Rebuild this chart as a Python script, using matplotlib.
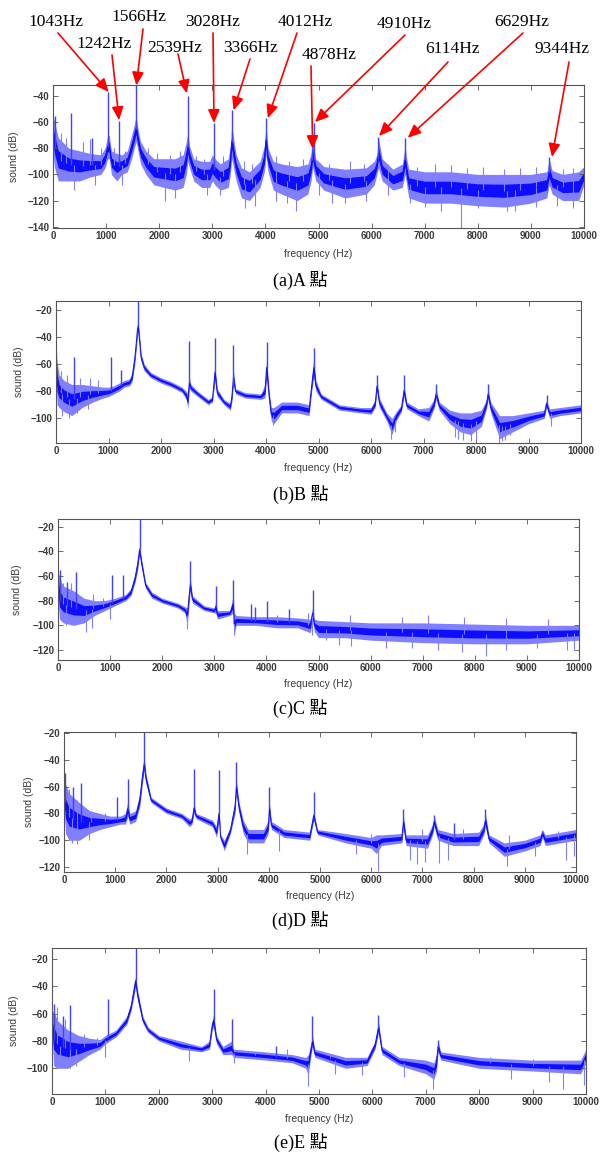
import matplotlib
matplotlib.use('Agg')
import matplotlib.pyplot as plt
import numpy as np

W, H = 601, 1158
fig = plt.figure(figsize=(W / 100, H / 100), dpi=100)

xticks = list(range(0, 10001, 1000))

# ---------------- Panel A ----------------
A_freq = [0, 30, 100, 300, 500, 700, 900, 980, 1030, 1060,
          1100, 1200, 1300, 1400, 1480, 1530, 1566, 1600, 1650, 1750,
          1900, 2100, 2300, 2450, 2510, 2539, 2570, 2650, 2800, 2950,
          3000, 3050, 3150, 3300, 3340, 3366, 3400, 3450, 3550, 3700,
          3900, 3980, 4012, 4050, 4150, 4300, 4600, 4800, 4860, 4890,
          4950, 5100, 5500, 5900, 6050, 6100, 6130, 6200, 6400, 6580,
          6629, 6660, 6700, 7000, 7500, 8000, 8500, 9000, 9300, 9344,
          9400, 9600, 9900, 10000]
A_high = [-55, -60, -72, -80, -82, -84, -85, -80, -70, -70,
          -82, -84, -85, -82, -70, -62, -55, -65, -75, -82,
          -88, -88, -88, -85, -75, -68, -78, -88, -90, -90,
          -85, -88, -92, -88, -78, -62, -72, -85, -95, -98,
          -90, -78, -62, -80, -90, -92, -94, -92, -84, -75,
          -88, -94, -96, -95, -90, -85, -72, -88, -96, -92,
          -78, -88, -96, -98, -98, -100, -100, -100, -98, -88,
          -97, -100, -98, -94]
A_low = [-85, -95, -105, -105, -105, -102, -100, -95, -88, -88,
         -100, -105, -100, -98, -88, -80, -75, -82, -92, -100,
         -108, -110, -112, -110, -100, -90, -95, -105, -110, -110,
         -105, -108, -112, -110, -100, -88, -95, -105, -118, -120,
         -110, -98, -85, -98, -112, -115, -120, -115, -105, -95,
         -105, -112, -118, -115, -108, -100, -95, -105, -112, -110,
         -100, -108, -118, -122, -122, -124, -125, -122, -118, -108,
         -115, -120, -120, -108]
A_peak_f = [45, 340, 730, 1043, 1242, 1566, 2539, 3028, 3366, 4012, 4878, 4910, 6114, 6629, 9344]
A_peak_v = [-55, -53, -72, -37, -59, -31, -40, -61, -51, -57, -80, -61, -71, -72, -87]
A_up_f = [150, 250, 565, 697, 900, 1150, 1350, 1780, 1950, 2200, 2400, 2700, 2850, 3200,
          3600, 3750, 4200, 4450, 4700, 5200, 5600, 5850, 6300, 6850, 7200, 7500, 7800,
          8100, 8500, 8800, 9100, 9600, 9800]
A_up_v = [-68, -72, -75, -73, -80, -80, -82, -80, -84, -85, -82, -86, -88, -86,
          -90, -92, -86, -90, -88, -92, -90, -92, -92, -94, -92, -93, -95,
          -94, -96, -95, -94, -96, -95]
A_dip_f = [400, 800, 1300, 2100, 2300, 2900, 3150, 3620, 3800, 4200, 4400, 4580, 5000,
           5250, 5500, 5900, 6300, 6720, 7000, 7300, 7680, 8000, 8550, 8700, 9100, 9500, 9800]
A_dip_v = [-112, -108, -108, -120, -118, -116, -116, -126, -124, -120, -122, -128, -116,
           -122, -122, -120, -116, -122, -125, -128, -141, -126, -128, -128, -125, -124, -126]

# ---------------- Panel B ----------------
B_freq = [0, 20, 60, 150, 300, 500, 700, 900, 1000, 1100,
          1200, 1300, 1400, 1450, 1500, 1530, 1550, 1566, 1590, 1620,
          1680, 1800, 2000, 2200, 2400, 2480, 2510, 2539, 2570, 2700,
          2900, 2980, 3028, 3070, 3200, 3320, 3350, 3380, 3420, 3600,
          3900, 3980, 4012, 4060, 4100, 4150, 4300, 4600, 4820, 4870,
          4910, 4950, 5050, 5400, 5800, 6000, 6080, 6114, 6160, 6300,
          6400, 6480, 6580, 6629, 6680, 6900, 7100, 7200, 7240, 7300,
          7500, 7700, 7900, 8100, 8200, 8230, 8280, 8450, 8700, 9000,
          9300, 9344, 9400, 9600, 10000]
B_high = [-40, -58, -68, -72, -75, -75, -76, -77, -77, -76,
          -74, -72, -71, -66, -52, -40, -30, -28, -38, -52,
          -60, -66, -70, -73, -77, -80, -82, -70, -75, -80,
          -86, -84, -60, -78, -86, -89, -80, -65, -78, -81,
          -82, -75, -55, -80, -92, -92, -88, -88, -90, -72,
          -55, -72, -82, -90, -92, -92, -86, -72, -85, -96,
          -100, -95, -90, -75, -88, -93, -92, -86, -78, -88,
          -94, -96, -96, -94, -86, -78, -88, -98, -98, -96,
          -94, -86, -93, -92, -90]
B_low = [-62, -90, -92, -95, -98, -92, -88, -85, -84, -82,
         -80, -77, -76, -73, -60, -48, -40, -36, -46, -58,
         -65, -70, -74, -77, -81, -86, -93, -78, -80, -84,
         -90, -88, -72, -84, -90, -94, -88, -75, -82, -85,
         -86, -85, -70, -88, -102, -104, -96, -96, -98, -80,
         -70, -80, -86, -94, -96, -97, -92, -80, -92, -102,
         -112, -102, -95, -84, -93, -98, -102, -93, -86, -94,
         -104, -110, -112, -106, -93, -86, -96, -115, -110, -104,
         -100, -92, -100, -98, -96]
B_peak_f = [340, 1043, 1242, 1566, 2539, 3028, 3366, 4012, 4910, 6114, 6629, 7230, 8230, 9344]
B_peak_v = [-55, -55, -64, -13, -43, -41, -46, -44, -48, -68, -68, -75, -75, -83]
B_up_f = [100, 200, 450, 650, 800]
B_up_v = [-65, -68, -70, -70, -72]
B_dip_f = [120, 250, 400, 600, 4130, 6380, 6450, 7600, 7650, 7750, 7900, 8000, 8430, 8500, 8550, 8650, 9430]
B_dip_v = [-98, -100, -96, -93, -105, -115, -110, -114, -115, -116, -117, -115, -118, -117, -116, -112, -106]

# ---------------- Panel C ----------------
C_freq = [0, 30, 100, 300, 500, 700, 900, 1100, 1300, 1400,
          1480, 1530, 1566, 1600, 1680, 1800, 2000, 2300, 2440, 2480,
          2520, 2539, 2580, 2800, 3000, 3028, 3060, 3300, 3366, 3380,
          3420, 3800, 4200, 4600, 4840, 4890, 4920, 5000, 5500, 6000,
          7000, 8000, 9000, 10000]
C_high = [-55, -62, -68, -72, -78, -80, -80, -78, -75, -70,
          -58, -45, -35, -45, -65, -73, -78, -82, -85, -86,
          -70, -62, -76, -84, -86, -80, -88, -88, -75, -90,
          -92, -93, -93, -94, -95, -85, -95, -96, -97, -98,
          -98, -99, -100, -100]
C_low = [-80, -95, -98, -100, -98, -92, -88, -84, -80, -76,
         -65, -55, -42, -52, -70, -78, -82, -86, -90, -100,
         -80, -72, -82, -88, -90, -90, -95, -92, -90, -108,
         -100, -100, -102, -102, -106, -95, -105, -110, -110, -112,
         -114, -115, -115, -112]
C_peak_f = [40, 180, 340, 1043, 1242, 1566, 2539, 3028, 3366, 3700, 3780, 4012, 4440, 4900]
C_peak_v = [-55, -65, -57, -59, -59, -14, -48, -68, -63, -83, -85, -80, -87, -71]
C_up_f = [100, 250, 680, 870, 4200, 4800, 5600, 6600, 7100, 7800, 8600, 9400]
C_up_v = [-66, -66, -75, -78, -92, -90, -92, -93, -92, -93, -94, -95]
C_dip_f = [150, 530, 650, 1000, 2470, 3380, 4880, 5150, 5400, 5620, 6300, 6800, 7300,
           7750, 8220, 8600, 9200, 9770, 9900]
C_dip_v = [-100, -105, -102, -95, -103, -108, -108, -112, -116, -117, -118, -118, -120,
           -122, -125, -120, -118, -120, -120]

# ---------------- Panel D ----------------
D_freq = [0, 30, 100, 300, 500, 700, 900, 1100, 1200, 1250,
          1280, 1400, 1480, 1530, 1566, 1600, 1700, 2000, 2300, 2450,
          2500, 2539, 2580, 2900, 2980, 3028, 3060, 3130, 3250, 3340,
          3366, 3420, 3500, 3600, 3900, 3990, 4012, 4050, 4300, 4800,
          4878, 4950, 5500, 6000, 6100, 6200, 6600, 6629, 6680, 7100,
          7200, 7230, 7300, 7600, 8100, 8200, 8230, 8300, 8600, 9000,
          9300, 9344, 9400, 10000]
D_high = [-50, -58, -65, -72, -78, -80, -82, -82, -80, -70,
          -80, -78, -65, -48, -38, -50, -68, -76, -80, -84,
          -83, -72, -80, -85, -90, -75, -96, -100, -90, -70,
          -55, -72, -85, -92, -92, -85, -72, -86, -92, -94,
          -78, -92, -95, -98, -96, -96, -95, -82, -96, -96,
          -88, -82, -92, -95, -94, -88, -80, -96, -102, -100,
          -96, -92, -96, -92]
D_low = [-75, -95, -100, -100, -95, -92, -90, -88, -88, -82,
         -88, -86, -75, -58, -48, -58, -72, -80, -84, -90,
         -88, -80, -84, -90, -98, -85, -100, -108, -95, -80,
         -65, -80, -95, -102, -102, -95, -80, -92, -98, -100,
         -85, -96, -102, -106, -110, -104, -102, -90, -104, -106,
         -96, -90, -100, -104, -104, -96, -90, -102, -112, -108,
         -104, -98, -104, -100]
D_peak_f = [20, 180, 340, 1043, 1242, 1566, 2539, 3028, 3366, 4012, 4878, 6629, 7230, 7620, 8230, 9344]
D_peak_v = [-50, -60, -57, -68, -54, -19, -47, -48, -42, -60, -64, -77, -81, -87, -77, -93]
D_up_f = [100, 250, 520, 800, 6000, 7000, 7800, 8700, 9650]
D_up_v = [-62, -70, -78, -80, -95, -92, -92, -96, -93]
D_dip_f = [150, 250, 480, 3580, 4200, 5700, 6130, 6750, 6900, 7050, 7330, 7500, 8650, 9200, 9800, 9960]
D_dip_v = [-102, -103, -100, -110, -108, -110, -123, -115, -118, -116, -117, -115, -119, -112, -115, -112]

# ---------------- Panel E ----------------
E_freq = [0, 30, 100, 300, 500, 700, 900, 1000, 1200, 1400,
          1480, 1530, 1566, 1600, 1700, 1800, 2000, 2400, 2800, 2950,
          3000, 3028, 3080, 3200, 3366, 3400, 4000, 4500, 4750, 4800,
          4850, 4878, 4920, 5500, 5900, 6050, 6114, 6180, 6500, 7000,
          7150, 7200, 7230, 7280, 8000, 9000, 9900, 10000]
E_high = [-60, -58, -65, -72, -76, -78, -79, -76, -72, -62,
          -52, -40, -32, -42, -62, -70, -76, -80, -84, -80,
          -65, -60, -76, -84, -80, -86, -88, -90, -92, -90,
          -82, -76, -86, -92, -92, -80, -66, -84, -92, -94,
          -96, -90, -80, -88, -92, -94, -94, -86]
E_low = [-75, -98, -100, -100, -95, -90, -86, -82, -77, -68,
         -58, -48, -40, -50, -67, -74, -80, -86, -88, -86,
         -72, -70, -82, -90, -90, -92, -94, -96, -100, -105,
         -90, -84, -92, -100, -98, -86, -74, -90, -98, -104,
         -108, -102, -88, -94, -100, -102, -104, -96]
E_peak_f = [40, 200, 340, 1043, 1566, 3028, 3366, 4200, 4878, 6114, 7230]
E_peak_v = [-53, -62, -54, -49, -11, -42, -64, -84, -62, -61, -79]
E_up_f = [100, 250, 600, 850, 3800, 4400, 5200, 8200, 9000]
E_up_v = [-55, -64, -75, -78, -88, -86, -90, -92, -93]
E_dip_f = [150, 330, 450, 1000, 2560, 3400, 4790, 5300, 5800, 6600, 7130, 8600, 9300, 9560, 9960]
E_dip_v = [-100, -100, -98, -92, -95, -96, -113, -104, -105, -106, -115, -108, -110, -115, -112]

# annotation labels for panel A
ann_text = ['1043Hz', '1242Hz', '1566Hz', '2539Hz', '3028Hz', '3366Hz',
            '4012Hz', '4878Hz', '4910Hz', '6114Hz', '6629Hz', '9344Hz']
ann_tip_f = [1050, 1245, 1570, 2520, 3032, 3400, 4045, 4891, 4934, 6139, 6680, 9397]
ann_tip_v = [-37, -58.5, -32, -38, -60.7, -51, -57, -80.6, -60, -70.6, -72, -86.7]

captions = ['(a)A 點', '(b)B 點', '(c)C 點', '(d)D 點', '(e)E 點']

# ---------------- layout (pixels) ----------------
panels = [
    dict(box=(53, 85, 584, 228), ylim=(-141, -31.6), yt=range(-140, -39, 20),
         ylab_x=14, xlab_y=254, cap_y=281,
         data=(A_freq, A_low, A_high, A_peak_f, A_peak_v, A_up_f, A_up_v, A_dip_f, A_dip_v)),
    dict(box=(56, 301, 581, 443), ylim=(-118.2, -13.4), yt=range(-100, -19, 20),
         ylab_x=19, xlab_y=468, cap_y=495,
         data=(B_freq, B_low, B_high, B_peak_f, B_peak_v, B_up_f, B_up_v, B_dip_f, B_dip_v)),
    dict(box=(58, 519, 579, 660), ylim=(-128.1, -13.8), yt=range(-120, -19, 20),
         ylab_x=17, xlab_y=684, cap_y=709,
         data=(C_freq, C_low, C_high, C_peak_f, C_peak_v, C_up_f, C_up_v, C_dip_f, C_dip_v)),
    dict(box=(64, 732, 576, 872), ylim=(-123.7, -19.3), yt=range(-120, -19, 20),
         ylab_x=29, xlab_y=896, cap_y=921,
         data=(D_freq, D_low, D_high, D_peak_f, D_peak_v, D_up_f, D_up_v, D_dip_f, D_dip_v)),
    dict(box=(52, 948, 586, 1094), ylim=(-118.8, -12.0), yt=range(-100, -19, 20),
         ylab_x=14, xlab_y=1119, cap_y=1143,
         data=(E_freq, E_low, E_high, E_peak_f, E_peak_v, E_up_f, E_up_v, E_dip_f, E_dip_v)),
]

BLUE = (0.05, 0.05, 1.0)
LIGHT = (0.5, 0.5, 1.0)
TXT = '#3a3a3a'
axes_list = []

for i, p in enumerate(panels):
    l, t, r, b = p['box']
    ax = fig.add_axes([l / W, 1 - b / H, (r - l) / W, (b - t) / H])
    axes_list.append(ax)
    freq, low, high, pf, pv, uf, uv, df, dv = p['data']
    f = np.array(freq, float)
    lo = np.array(low, float)
    hi = np.array(high, float)
    mid = (lo + hi) / 2
    ax.fill_between(f, lo, hi, color=LIGHT, lw=0)
    ax.fill_between(f, mid - (mid - lo) * 0.4, mid + (hi - mid) * 0.4, color=BLUE, lw=0)
    ax.plot(f, mid, color=BLUE, lw=0.7)
    for x, v in zip(uf, uv):
        base = np.interp(x, f, mid)
        ax.plot([x, x], [base, v], color=LIGHT, lw=0.8, solid_capstyle='butt')
    for x, v in zip(df, dv):
        base = np.interp(x, f, mid)
        ax.plot([x, x], [base, v], color=LIGHT, lw=0.8, solid_capstyle='butt')
    for x, v in zip(pf, pv):
        base = np.interp(x, f, mid)
        ax.plot([x, x], [base, v], color=(0.25, 0.25, 1.0), lw=1.0, solid_capstyle='butt')
    ax.set_xlim(0, 10000)
    ax.set_ylim(*p['ylim'])
    ax.set_xticks(xticks)
    ax.set_yticks(list(p['yt']))
    ax.tick_params(direction='in', top=True, right=True, length=3.5, width=0.6,
                   colors='#555555', labelcolor=TXT, pad=2.5)
    for lab in ax.get_xticklabels() + ax.get_yticklabels():
        lab.set_fontfamily('Liberation Sans')
        lab.set_fontsize(7)
        lab.set_fontweight('bold')
    for s in ax.spines.values():
        s.set_color('#555555')
        s.set_linewidth(0.8)
    fig.text(((l + r) / 2) / W, 1 - p['xlab_y'] / H, 'frequency (Hz)', ha='center', va='center',
             family='Liberation Sans', fontsize=7.5, color=TXT)
    fig.text(p['ylab_x'] / W, 1 - ((t + b) / 2) / H, 'sound (dB)', ha='center', va='center',
             rotation=90, family='Liberation Sans', fontsize=7.5, color=TXT)
    fig.text(300.5 / W, 1 - p['cap_y'] / H, captions[i], ha='center', va='center',
             family=['Liberation Serif', 'Noto Sans CJK TC'], fontsize=13, color='black')

# ---------------- annotations for panel A ----------------
ann_label_xy = [(56, 22), (104, 44), (139, 17), (175, 48), (213, 22), (251, 48),
                (305, 22), (329, 55), (404, 24), (452, 49), (522, 22), (562, 49)]
ann_start_xy = [(58, 33), (112, 55), (143, 29), (178, 54), (213, 33), (250, 59),
                (297, 33), (311, 66), (405, 35), (448, 62), (523, 33), (569, 62)]
axA = axes_list[0]
for txt, (lx, ly), (sx, sy), tf, tv in zip(ann_text, ann_label_xy, ann_start_xy, ann_tip_f, ann_tip_v):
    fig.text(lx / W, 1 - ly / H, txt, ha='center', va='center',
             family='Liberation Serif', fontsize=12.5, color='black')
    axA.annotate('', xy=(tf, tv), xycoords='data',
                 xytext=(sx / W, 1 - sy / H), textcoords='figure fraction',
                 arrowprops=dict(arrowstyle='-|>,head_length=0.8,head_width=0.35',
                                 color='red', lw=1.2, mutation_scale=10,
                                 shrinkA=0, shrinkB=0),
                 annotation_clip=False)

fig.savefig('out.png', dpi=100)
